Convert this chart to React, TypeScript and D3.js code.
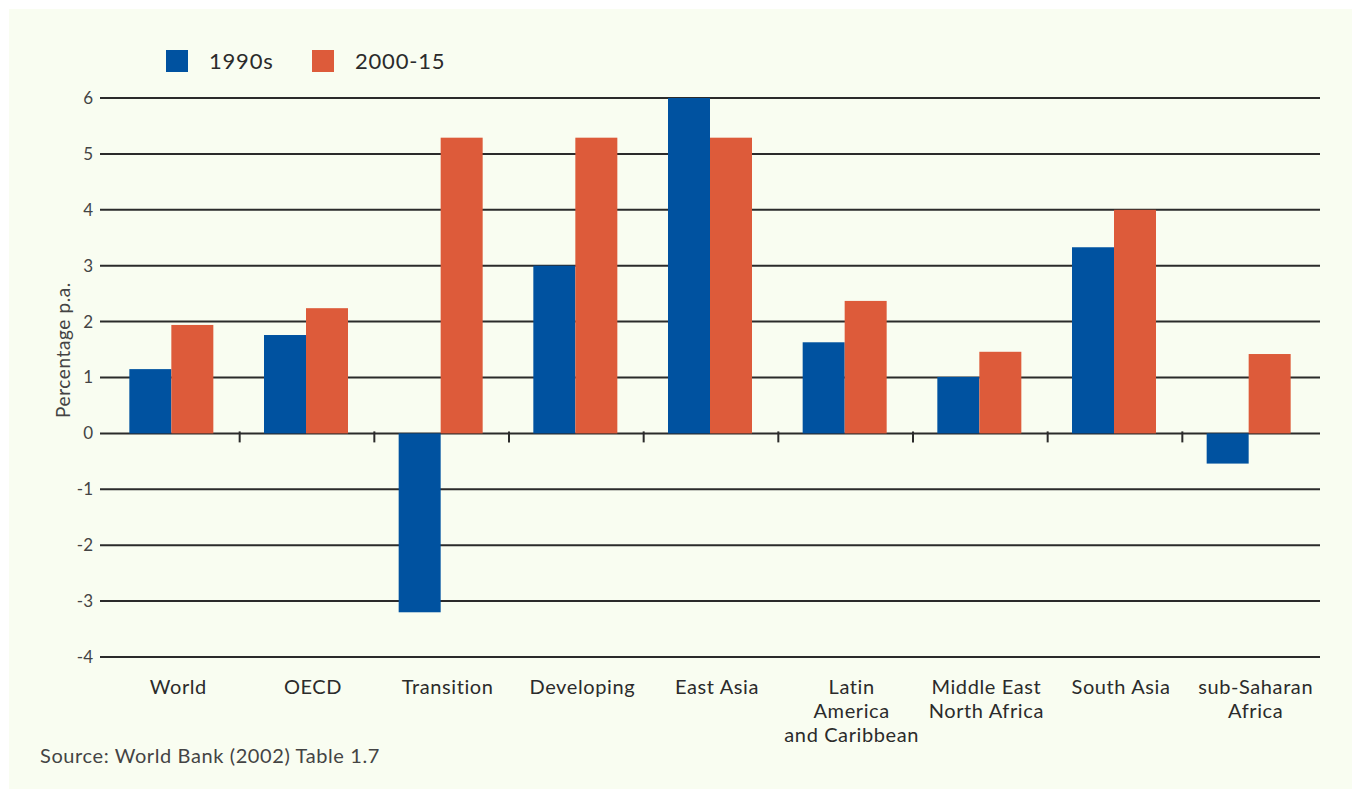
import React from "react";
import * as d3 from "d3";

const regions: string[][] = [
  ["World"],
  ["OECD"],
  ["Transition"],
  ["Developing"],
  ["East Asia"],
  ["Latin", "America", "and Caribbean"],
  ["Middle East", "North Africa"],
  ["South Asia"],
  ["sub-Saharan", "Africa"],
];
const series = ["1990s", "2000-15"];
const growth1990s = [1.15, 1.76, -3.2, 3.0, 6.0, 1.63, 1.01, 3.33, -0.54];
const growth2000s = [1.94, 2.24, 5.29, 5.29, 5.29, 2.37, 1.46, 4.0, 1.42];
const yTicks = [6, 5, 4, 3, 2, 1, 0, -1, -2, -3, -4];

const colors = ["#0052a0", "#dd5b3a"];
const ink = "#2b2b2b";
const font = "Lato, 'Open Sans', sans-serif";

const W = 1352;
const H = 789;
const plot = { left: 105, right: 1317, top: 98, bottom: 657 };

export default function App() {
  const x = d3
    .scaleBand<number>()
    .domain(d3.range(regions.length))
    .range([plot.left, plot.right]);
  const inner = d3
    .scaleBand<number>()
    .domain([0, 1])
    .range([0, 84]);
  const y = d3.scaleLinear().domain([-4, 6]).range([plot.bottom, plot.top]);
  const values = [growth1990s, growth2000s];
  const zero = y(0);
  const legendX = [166, 312];

  return (
    <svg
      width={W}
      height={H}
      style={{ position: "absolute", left: 0, top: 0, display: "block" }}
    >
      <rect x={0} y={0} width={W} height={H} fill="#ffffff" />
      <rect x={9} y={9} width={W - 9} height={H - 9} fill="#f9fdf1" />

      {/* legend */}
      {series.map((s, i) => (
        <g key={s} transform={`translate(${legendX[i]},50)`}>
          <rect width={22} height={22} fill={colors[i]} />
          <text
            x={43}
            y={19}
            fontSize={22}
            letterSpacing={0.8}
            fill={ink}
            fontFamily={font}
          >
            {s}
          </text>
        </g>
      ))}

      {/* gridlines and y labels */}
      {yTicks.map((t) => (
        <g key={t}>
          <line
            x1={100}
            x2={1320}
            y1={y(t)}
            y2={y(t)}
            stroke={ink}
            strokeWidth={2}
          />
          <text
            x={93}
            y={y(t)}
            dy="0.35em"
            textAnchor="end"
            fontSize={17}
            fill="#444"
            fontFamily={font}
          >
            {t}
          </text>
        </g>
      ))}

      <text
        transform={`translate(70,350) rotate(-90)`}
        textAnchor="middle"
        fontSize={19}
        letterSpacing={0.6}
        fill="#444"
        fontFamily={font}
      >
        Percentage p.a.
      </text>

      {/* bars */}
      {regions.map((r, ci) => {
        const gx = (x(ci) as number) + x.bandwidth() / 2 - 43;
        return (
          <g key={ci}>
            {values.map((vals, si) => {
              const v = vals[ci];
              return (
                <rect
                  key={si}
                  x={gx + (inner(si) as number)}
                  width={inner.bandwidth()}
                  y={Math.min(y(v), zero)}
                  height={Math.abs(y(v) - zero)}
                  fill={colors[si]}
                />
              );
            })}
          </g>
        );
      })}

      {/* zero axis ticks between groups */}
      {regions.slice(1).map((_, i) => (
        <line
          key={i}
          x1={x(i + 1) as number}
          x2={x(i + 1) as number}
          y1={zero - 2}
          y2={zero + 9}
          stroke={ink}
          strokeWidth={2}
        />
      ))}

      {/* category labels */}
      {regions.map((lines, ci) => {
        const cx = (x(ci) as number) + x.bandwidth() / 2 + 6;
        return (
          <text
            key={ci}
            x={cx}
            y={694}
            textAnchor="middle"
            fontSize={20}
            letterSpacing={0.6}
            fill={ink}
            fontFamily={font}
          >
            {lines.map((l, li) => (
              <tspan key={li} x={cx} dy={li === 0 ? 0 : 24}>
                {l}
              </tspan>
            ))}
          </text>
        );
      })}

      <text
        x={40}
        y={763}
        fontSize={20}
        letterSpacing={0.6}
        fill="#444"
        fontFamily={font}
      >
        Source: World Bank (2002) Table 1.7
      </text>
    </svg>
  );
}
